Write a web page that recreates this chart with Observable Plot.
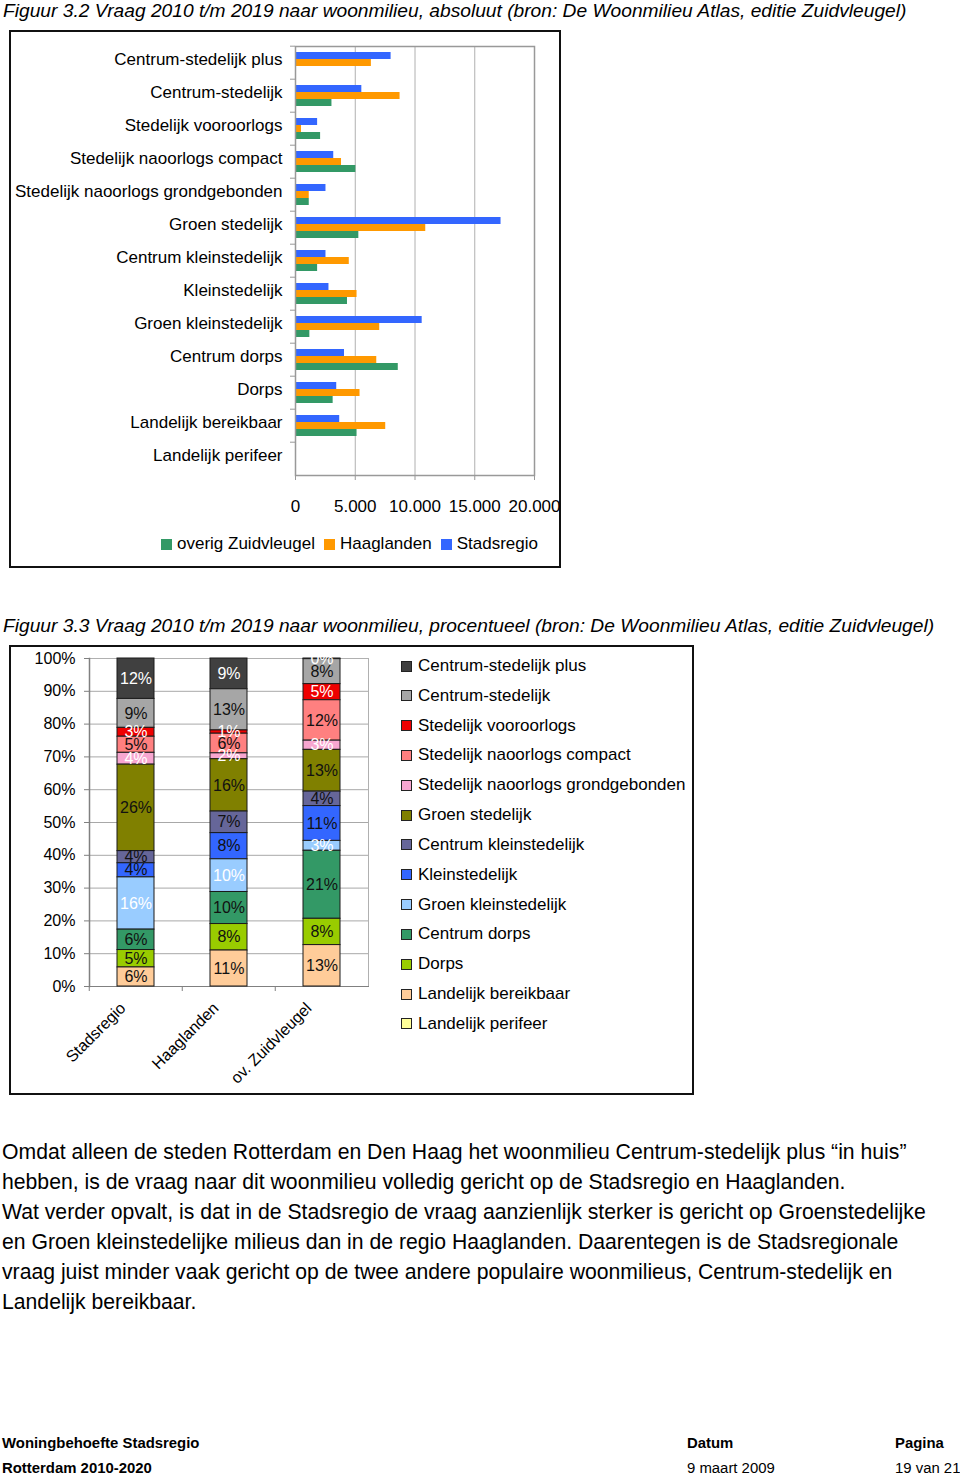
<!DOCTYPE html>
<html>
<head>
<meta charset="utf-8">
<script src="https://cdn.jsdelivr.net/npm/d3@7"></script>
<script src="https://cdn.jsdelivr.net/npm/@observablehq/plot@0.6"></script>
<style>
  html, body { margin: 0; padding: 0; background: #fff; }
  body { width: 960px; height: 1479px; position: relative; font-family: "Liberation Sans", Arial, Helvetica, sans-serif; color: #000; overflow: hidden; }
  .abs { position: absolute; }
  .title { font-style: italic; font-size: 19.2px; line-height: 22px; white-space: nowrap; left: 3px; }
  .box { box-sizing: border-box; border: 2px solid #111; background: #fff; }
  .leg1 { font-size: 17px; line-height: 20px; white-space: nowrap; display: flex; align-items: center; }
  .leg1 span.sw { display: inline-block; width: 11px; height: 11px; margin-right: 5px; }
  .leg1 span.lb { margin-right: 9px; }
  .leg2 { font-size: 17px; line-height: 20px; white-space: nowrap; }
  .leg2 .row { position: absolute; left: 0; display: flex; align-items: center; height: 20px; }
  .leg2 .sw { display: inline-block; width: 9px; height: 9px; border: 1px solid #222; margin-right: 6px; }
  .para { left: 2px; top: 1137px; font-size: 21.2px; line-height: 30px; }
  .para div { white-space: nowrap; }
  .foot { font-size: 14.9px; line-height: 18px; white-space: nowrap; }
  .b { font-weight: bold; }
</style>
</head>
<body>
<div class="abs title" style="top:0px;">Figuur 3.2 Vraag 2010 t/m 2019 naar woonmilieu, absoluut (bron: De Woonmilieu Atlas, editie Zuidvleugel)</div>
<div class="abs box" id="box1" style="left:9px; top:30px; width:552px; height:538px;">
  <div class="abs" id="chart1" style="left:0; top:0;"></div>
  <div class="abs leg1" id="legend1" style="left:150px; top:502px;"></div>
</div>
<div class="abs title" style="top:615px;">Figuur 3.3 Vraag 2010 t/m 2019 naar woonmilieu, procentueel (bron: De Woonmilieu Atlas, editie Zuidvleugel)</div>
<div class="abs box" id="box2" style="left:9px; top:645px; width:685px; height:450px;">
  <div class="abs" id="chart2" style="left:0; top:0;"></div>
  <div class="abs leg2" id="legend2" style="left:390px; top:9px;"></div>
</div>
<div class="abs para">
  <div>Omdat alleen de steden Rotterdam en Den Haag het woonmilieu Centrum-stedelijk plus “in huis”</div>
  <div>hebben, is de vraag naar dit woonmilieu volledig gericht op de Stadsregio en Haaglanden.</div>
  <div>Wat verder opvalt, is dat in de Stadsregio de vraag aanzienlijk sterker is gericht op Groenstedelijke</div>
  <div>en Groen kleinstedelijke milieus dan in de regio Haaglanden. Daarentegen is de Stadsregionale</div>
  <div>vraag juist minder vaak gericht op de twee andere populaire woonmilieus, Centrum-stedelijk en</div>
  <div>Landelijk bereikbaar.</div>
</div>
<div class="abs foot b" style="left:2px; top:1434px;">Woningbehoefte Stadsregio</div>
<div class="abs foot b" style="left:2px; top:1459px;">Rotterdam 2010-2020</div>
<div class="abs foot b" style="left:687px; top:1434px;">Datum</div>
<div class="abs foot" style="left:687px; top:1459px;">9 maart 2009</div>
<div class="abs foot b" style="left:895px; top:1434px;">Pagina</div>
<div class="abs foot" style="left:895px; top:1459px;">19 van 21</div>

<script>
// ---------- DATA ----------
const milieus = [
  "Centrum-stedelijk plus",
  "Centrum-stedelijk",
  "Stedelijk vooroorlogs",
  "Stedelijk naoorlogs compact",
  "Stedelijk naoorlogs grondgebonden",
  "Groen stedelijk",
  "Centrum kleinstedelijk",
  "Kleinstedelijk",
  "Groen kleinstedelijk",
  "Centrum dorps",
  "Dorps",
  "Landelijk bereikbaar",
  "Landelijk perifeer"
];

// Figure 3.2: absolute demand (households)
const seriesAbs = ["Stadsregio", "Haaglanden", "overig Zuidvleugel"];
const absStadsregio = [8000, 5550, 1850, 3200, 2550, 17200, 2550, 2800, 10600, 4100, 3450, 3700, 0];
const absHaaglanden = [6350, 8750, 500, 3850, 1150, 10900, 4500, 5150, 7050, 6800, 5400, 7550, 0];
const absOverig = [0, 3050, 2100, 5050, 1150, 5300, 1850, 4350, 1200, 8600, 3150, 5150, 0];
const absTicks = [0, 5000, 10000, 15000, 20000];

// Figure 3.3: share per region (percent)
const regions = ["Stadsregio", "Haaglanden", "ov. Zuidvleugel"];
const pctStadsregio = [12.3, 8.8, 2.7, 4.9, 3.6, 26.3, 3.7, 4.3, 15.9, 6.2, 5.3, 5.8, 0];
const pctHaaglanden = [9.4, 12.6, 1.0, 6.0, 1.8, 16.0, 6.6, 8.0, 10.0, 9.8, 8.1, 11.0, 0];
const pctOverig = [0.2, 7.6, 4.9, 12.3, 2.8, 12.7, 4.4, 10.6, 3.0, 20.7, 8.0, 12.6, 0];
const pctTicks = [0, 0.1, 0.2, 0.3, 0.4, 0.5, 0.6, 0.7, 0.8, 0.9, 1.0];

// ---------- STYLES ----------
const absColors = ["#3366ff", "#ff9900", "#339966"];
const milieuColors = ["#404040", "#a6a6a6", "#ee0000", "#ff8080", "#f7a6d0", "#808000",
  "#666699", "#3366ff", "#99ccff", "#339966", "#99cc00", "#ffcc99", "#ffff99"];
const whiteLabelMilieus = ["Centrum-stedelijk plus", "Stedelijk vooroorlogs",
  "Stedelijk naoorlogs grondgebonden", "Groen kleinstedelijk"];

const fontFamily = "'Liberation Sans', Arial, Helvetica, sans-serif";

// ---------- CHART 1 ----------
const absValues = [absStadsregio, absHaaglanden, absOverig];
const absRows = [];
milieus.forEach((m, i) => seriesAbs.forEach((s, j) => absRows.push({milieu: m, series: s, value: absValues[j][i]})));

const nl = d3.formatLocale({decimal: ",", thousands: ".", grouping: [3], currency: ["€", ""]});
const fmtNum = nl.format(",");

const h1 = 490, mt1 = 10, mb1 = 43;
const step1 = (h1 - mt1 - mb1) / milieus.length;

const chart1 = Plot.plot({
  width: 548, height: h1,
  marginLeft: 284, marginRight: 25, marginTop: mt1, marginBottom: mb1,
  style: {fontFamily, fontSize: "17px", color: "#000", background: "transparent", overflow: "visible"},
  fy: {domain: milieus, padding: 0, label: null},
  y: {domain: seriesAbs, paddingInner: 0, paddingOuter: 0.7, axis: null},
  x: {domain: [0, 20000], label: null},
  color: {domain: seriesAbs, range: absColors},
  marks: [
    Plot.gridX({ticks: absTicks.slice(1, -1), stroke: "#b0b0b0", strokeOpacity: 1}),
    Plot.barX(absRows, {fy: "milieu", y: "series", x: "value", fill: "series"}),
    Plot.frame({facet: "super", stroke: "#999", strokeWidth: 1.5}),
    Plot.axisFy({anchor: "left", tickSize: 5, dy: -step1 / 2, tickFormat: () => "", stroke: "#999", label: null}),
    Plot.axisFy({anchor: "left", tickSize: 0, tickPadding: 13, dy: -3, label: null}),
    Plot.axisX({ticks: absTicks, tickFormat: fmtNum, tickSize: 5, tickPadding: 19, stroke: "#999", label: null})
  ]
});
document.getElementById("chart1").appendChild(chart1);

const leg1 = document.getElementById("legend1");
[["overig Zuidvleugel", absColors[2]], ["Haaglanden", absColors[1]], ["Stadsregio", absColors[0]]].forEach(([t, c]) => {
  const sw = document.createElement("span"); sw.className = "sw"; sw.style.background = c;
  const lb = document.createElement("span"); lb.className = "lb"; lb.textContent = t;
  leg1.appendChild(sw); leg1.appendChild(lb);
});

// ---------- CHART 2 ----------
const pctValues = [pctStadsregio, pctHaaglanden, pctOverig];
const pctRows = [];
regions.forEach((r, j) => milieus.forEach((m, i) => pctRows.push({region: r, milieu: m, value: pctValues[j][i]})));
const totals = Object.fromEntries(regions.map((r, j) => [r, d3.sum(pctValues[j])]));
const label = d => Math.round(100 * d.value / totals[d.region]) + "%";
const isWhite = d => whiteLabelMilieus.includes(d.milieu);
const stackOrder = milieus.slice().reverse();

const w2 = 380, ml2 = 78, mr2 = 23, pi2 = 0.604, po2 = 0.294;
const step2 = (w2 - ml2 - mr2) / (regions.length - pi2 + 2 * po2);

const stackOpts = {x: "region", y: "value", z: "milieu", order: stackOrder, offset: "normalize"};

const chart2 = Plot.plot({
  width: w2, height: 445,
  marginLeft: ml2, marginRight: mr2, marginTop: 11, marginBottom: 106,
  style: {fontFamily, fontSize: "16px", color: "#000", background: "transparent", overflow: "visible"},
  x: {domain: regions, paddingInner: pi2, paddingOuter: po2, label: null},
  y: {domain: [0, 1], label: null},
  color: {domain: milieus, range: milieuColors},
  marks: [
    Plot.gridY({ticks: pctTicks, stroke: "#a8a8a8", strokeOpacity: 1}),
    Plot.frame({stroke: "#b0b0b0"}),
    Plot.frame({anchor: "left", stroke: "#808080", strokeWidth: 1.5}),
    Plot.frame({anchor: "bottom", stroke: "#808080"}),
    Plot.barY(pctRows, Plot.stackY({...stackOpts, fill: "milieu", stroke: "#1a1a1a", strokeWidth: 1})),
    Plot.text(pctRows, Plot.stackY({...stackOpts,
      text: d => (d.value > 0 && !isWhite(d)) ? label(d) : "", fill: "#111", fontSize: 16})),
    Plot.text(pctRows, Plot.stackY({...stackOpts,
      text: d => (d.value > 0 && isWhite(d)) ? label(d) : "", fill: "#fff", fontSize: 16})),
    Plot.axisY({ticks: pctTicks, tickFormat: d3.format(".0%"), tickSize: 5, tickPadding: 9, stroke: "#808080", label: null}),
    Plot.axisX({tickSize: 5, dx: -step2 / 2, tickFormat: () => "", stroke: "#808080", label: null}),
    Plot.axisX({tickSize: 0, tickPadding: 19, tickRotate: -45, dx: -13, fontSize: 16, label: null})
  ]
});
document.getElementById("chart2").appendChild(chart2);

const leg2 = document.getElementById("legend2");
milieus.forEach((m, i) => {
  const row = document.createElement("div"); row.className = "row";
  row.style.top = (i * 29.83) + "px";
  const sw = document.createElement("span"); sw.className = "sw"; sw.style.background = milieuColors[i];
  const lb = document.createElement("span"); lb.textContent = m;
  row.appendChild(sw); row.appendChild(lb);
  leg2.appendChild(row);
});
</script>
</body>
</html>
